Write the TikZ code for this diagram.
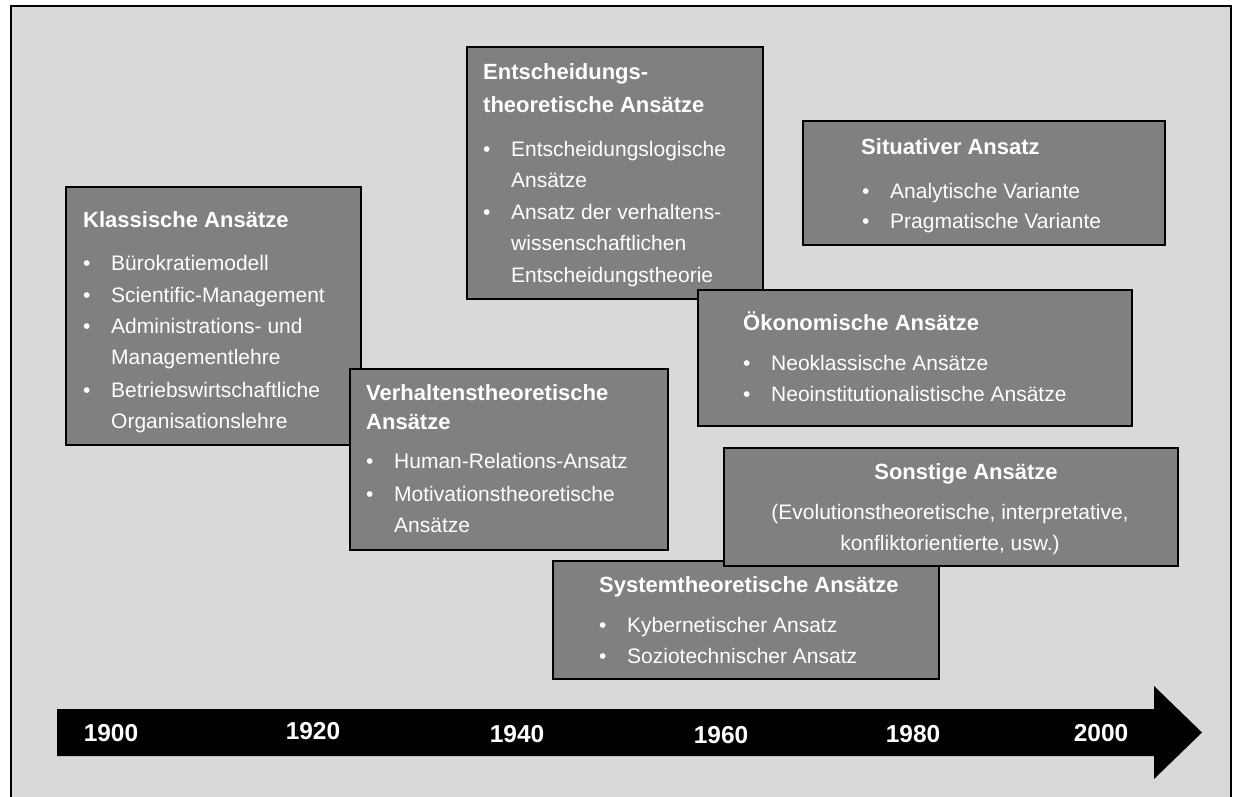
\documentclass[tikz,border=0pt]{standalone}
\usepackage{fontspec}
\setmainfont{Liberation Sans}
\definecolor{framebg}{HTML}{D9D9D9}
\definecolor{panelfill}{HTML}{808080}
% bullet with hanging indent for list entries
\newcommand\bul{\makebox[28pt][l]{•}}
\begin{document}
\begin{tikzpicture}[x=1pt,y=-1pt,
  panel/.style={draw=black, fill=panelfill, line width=2.5pt, inner sep=0pt},
  headline/.style={text=white, inner sep=0pt, anchor=base west,
    font=\bfseries\fontsize{22}{26}\selectfont},
  entry/.style={text=white, inner sep=0pt, anchor=base west,
    font=\fontsize{21}{25}\selectfont},
  year/.style={text=white, inner sep=0pt, anchor=base,
    font=\bfseries\fontsize{24.5}{28}\selectfont}]
\useasboundingbox (0,0) rectangle (1233,797);
\fill[white] (0,0) rectangle (1233,797);

% outer frame
\draw[line width=2.5pt, fill=framebg] (11,6) rectangle (1231,805);

% Klassische Ansaetze
\node[panel, minimum width=295pt, minimum height=258pt] (klassisch) at (213.5,316) {};
\node[headline] (k-t) at (83,227) {Klassische Ansätze};
\node[entry] (k-1) at (83,270) {\bul Bürokratiemodell};
\node[entry] (k-2) at (83,302) {\bul Scientific-Management};
\node[entry] (k-3) at (83,333) {\bul Administrations- und};
\node[entry] (k-3b) at (111,364) {Managementlehre};
\node[entry] (k-4) at (83,397) {\bul Betriebswirtschaftliche};
\node[entry] (k-4b) at (111,428) {Organisationslehre};

% Verhaltenstheoretische Ansaetze
\node[panel, minimum width=318pt, minimum height=181pt] (verhalten) at (509,459.5) {};
\node[headline] (v-t1) at (366,400) {Verhaltenstheoretische};
\node[headline] (v-t2) at (366,429) {Ansätze};
\node[entry] (v-1) at (366,468) {\bul Human-Relations-Ansatz};
\node[entry] (v-2) at (366,501) {\bul Motivationstheoretische};
\node[entry] (v-2b) at (394,532) {Ansätze};

% Entscheidungstheoretische Ansaetze
\node[panel, minimum width=296pt, minimum height=252pt] (entscheidung) at (615,173) {};
\node[headline] (e-t1) at (483,80) {Entscheidungs-};
\node[headline] (e-t2) at (483,113) {theoretische Ansätze};
\node[entry] (e-1) at (483,156) {\bul Entscheidungslogische};
\node[entry] (e-1b) at (511,187) {Ansätze};
\node[entry] (e-2) at (483,219) {\bul Ansatz der verhaltens-};
\node[entry] (e-2b) at (511,250) {wissenschaftlichen};
\node[entry] (e-2c) at (511,282) {Entscheidungstheorie};

% Oekonomische Ansaetze
\node[panel, minimum width=434pt, minimum height=136pt] (oekonomie) at (915,358) {};
\node[headline] (o-t) at (743,330) {Ökonomische Ansätze};
\node[entry] (o-1) at (743,370) {\bul Neoklassische Ansätze};
\node[entry] (o-2) at (743,401) {\bul Neoinstitutionalistische Ansätze};

% Situativer Ansatz
\node[panel, minimum width=362pt, minimum height=124pt] (situativ) at (984,183) {};
\node[headline] (s-t) at (861,154) {Situativer Ansatz};
\node[entry] (s-1) at (862,198) {\bul Analytische Variante};
\node[entry] (s-2) at (862,228) {\bul Pragmatische Variante};

% Systemtheoretische Ansaetze
\node[panel, minimum width=386pt, minimum height=118pt] (system) at (746,620) {};
\node[headline] (y-t) at (599,592) {Systemtheoretische Ansätze};
\node[entry] (y-1) at (599,632) {\bul Kybernetischer Ansatz};
\node[entry] (y-2) at (599,663) {\bul Soziotechnischer Ansatz};

% Sonstige Ansaetze
\node[panel, minimum width=454pt, minimum height=118pt] (sonstige) at (951,507) {};
\node[headline, anchor=base] (so-t) at (966,479) {Sonstige Ansätze};
\node[entry, anchor=base] (so-1) at (950,519) {(Evolutionstheoretische, interpretative,};
\node[entry, anchor=base] (so-2) at (950,550) {konfliktorientierte, usw.)};

% time axis
\fill[black] (57,709) -- (1154,709) -- (1154,686) -- (1202,732.5)
  -- (1154,779) -- (1154,756) -- (57,756) -- cycle;
\node[year] (y1900) at (111,741) {1900};
\node[year] (y1920) at (313,739) {1920};
\node[year] (y1940) at (517,742) {1940};
\node[year] (y1960) at (721,743) {1960};
\node[year] (y1980) at (913,742) {1980};
\node[year] (y2000) at (1101,741) {2000};
\end{tikzpicture}
\end{document}
